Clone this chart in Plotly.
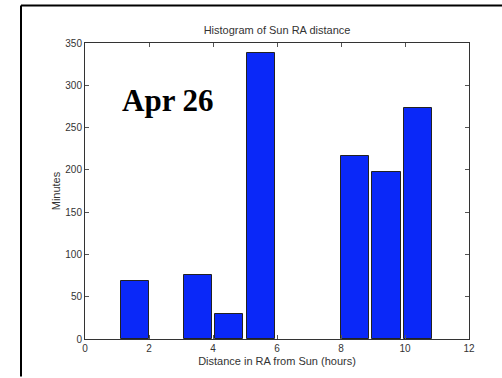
import plotly.graph_objects as go

# Data
bin_centers = [1.56, 3.52, 4.50, 5.49, 8.43, 9.42, 10.40]
minutes = [68, 76, 30, 338, 216, 197, 273]
x_ticks = [0, 2, 4, 6, 8, 10, 12]
y_ticks = [0, 50, 100, 150, 200, 250, 300, 350]

FONT = "Liberation Sans, Arial, sans-serif"
TXT = "#333333"

fig = go.Figure()
fig.add_trace(go.Bar(
    x=bin_centers, y=minutes, width=0.88,
    marker=dict(color="#0a28f8", line=dict(color="#222222", width=1)),
    showlegend=False,
))

axis_common = dict(
    showgrid=False, zeroline=False, showline=True, linecolor="#333333", linewidth=1,
    mirror="ticks", ticks="inside", ticklen=4, tickcolor="#555555",
    tickfont=dict(family=FONT, size=10, color=TXT),
)

fig.update_layout(
    width=502, height=378,
    margin=dict(l=85, r=33, t=43, b=36),
    paper_bgcolor="white", plot_bgcolor="white",
    title=dict(text="Histogram of Sun RA distance", x=(85 + 469) / 2 / 502, xanchor="center",
               y=1 - 30 / 378, yanchor="middle", font=dict(family=FONT, size=11, color=TXT)),
    xaxis=dict(range=[0, 12], tickvals=x_ticks, ticktext=[str(v) for v in x_ticks],
               title=dict(text="Distance in RA from Sun (hours)", standoff=4,
                          font=dict(family=FONT, size=11, color=TXT)), **axis_common),
    yaxis=dict(range=[0, 350], tickvals=y_ticks, ticktext=[str(v) for v in y_ticks],
               title=dict(text="Minutes", standoff=2, font=dict(family=FONT, size=11, color=TXT)),
               **axis_common),
    bargap=0,
)

fig.add_annotation(x=2.6, y=282, xref="x", yref="y", text="<b>Apr 26</b>", showarrow=False,
                   font=dict(family="Liberation Serif, Times New Roman, serif", size=31, color="black"))

# Outer frame (decorative border of the screenshot)
fig.add_shape(type="line", xref="paper", yref="paper",
              x0=(21 - 85) / 384, x1=(21 - 85) / 384, y0=(342 - 5) / 299, y1=(342 - 380) / 299,
              line=dict(color="black", width=2))
fig.add_shape(type="line", xref="paper", yref="paper",
              x0=(21 - 85) / 384, x1=(505 - 85) / 384, y0=(342 - 5) / 299, y1=(342 - 5) / 299,
              line=dict(color="black", width=2))

fig.write_html("out.html")
